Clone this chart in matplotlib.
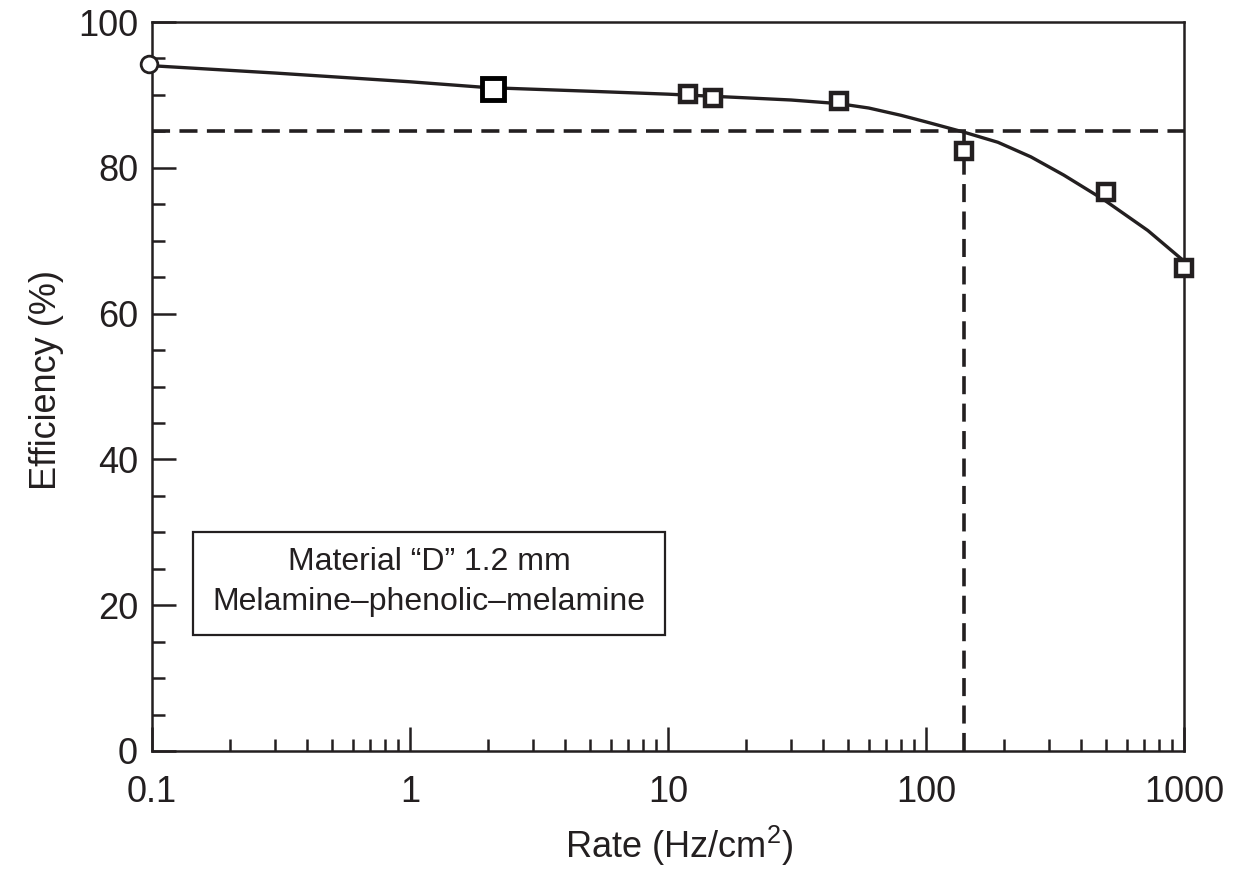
import matplotlib
matplotlib.use("Agg")
import matplotlib.pyplot as plt
from matplotlib.patches import Rectangle
from matplotlib.ticker import FixedLocator, NullFormatter

plt.rcParams['font.family'] = ['Liberation Sans', 'DejaVu Sans']
plt.rcParams['mathtext.fontset'] = 'custom'
plt.rcParams['mathtext.rm'] = 'Liberation Sans'

# measured points
circle_rate = [0.097]
circle_eff = [94.3]
big_sq_rate = [2.1]
big_sq_eff = [90.8]
sq_rate = [12, 15, 46, 140, 500, 1000]
sq_eff = [90.1, 89.6, 89.1, 82.3, 76.7, 66.2]

# fitted curve
curve_rate = [0.1, 0.3, 1, 2, 5, 10, 20, 30, 46, 60, 80, 100, 140, 190, 255, 342, 490, 724, 1000]
curve_eff = [94.0, 93.0, 91.8, 91.0, 90.5, 90.1, 89.6, 89.3, 88.8, 88.2, 87.2, 86.3, 84.9,
             83.5, 81.5, 79.0, 75.6, 71.4, 67.2]

# 85 % efficiency reached at ~140 Hz/cm2
eff_level = 85
rate_level = 140

xticks = [0.1, 1, 10, 100, 1000]
xtick_labels = ["0.1", "1", "10", "100", "1000"]
yticks = [0, 20, 40, 60, 80, 100]

ink = "#231f20"

fig = plt.figure(figsize=(12.5, 8.69), dpi=100)
ax = fig.add_axes([152 / 1250, 118 / 869, 1032 / 1250, 729 / 869])

ax.set_xscale("log")
ax.set_xlim(0.1, 1000)
ax.set_ylim(0, 100)

ax.plot(curve_rate, curve_eff, color=ink, lw=2.4, zorder=3)
ax.plot([0.1, 1000], [eff_level, eff_level], color=ink, lw=2.6,
        dashes=(5, 2.6), zorder=2)
ax.plot([rate_level, rate_level], [0, eff_level], color=ink, lw=2.6,
        dashes=(5, 2.6), zorder=2)

ax.plot(circle_rate, circle_eff, ls="none", marker="o", ms=12, mfc="white",
        mec=ink, mew=2, clip_on=False, zorder=4)
ax.plot(big_sq_rate, big_sq_eff, ls="none", marker="s", ms=16, mfc="white",
        mec="black", mew=3.5, zorder=4)
ax.plot(sq_rate, sq_eff, ls="none", marker="s", ms=11, mfc="white",
        mec=ink, mew=3.2, clip_on=False, zorder=4)

ax.set_xticks(xticks)
ax.set_xticklabels(xtick_labels)
minor = [m * d for d in [0.1, 1, 10, 100] for m in range(2, 10)]
ax.xaxis.set_minor_locator(FixedLocator(minor))
ax.xaxis.set_minor_formatter(NullFormatter())
ax.set_yticks(yticks)
ax.yaxis.set_minor_locator(FixedLocator(range(0, 101, 5)))

ax.tick_params(which="both", direction="in", width=1.8, color=ink,
               top=False, right=False, labelcolor=ink)
ax.tick_params(which="major", length=17, labelsize=26)
ax.tick_params(axis="x", which="major", pad=17)
ax.tick_params(axis="y", which="major", pad=10)
ax.tick_params(which="minor", length=9)
for s in ax.spines.values():
    s.set_linewidth(1.8)
    s.set_color(ink)

ax.set_xlabel("Rate (Hz/cm$^2$)", fontsize=26, labelpad=10, color=ink)
ax.set_ylabel("Efficiency (%)", fontsize=26, labelpad=10, color=ink)
ax.xaxis.label.set_x(0.511)
ax.yaxis.label.set_y(0.509)

ax.add_patch(Rectangle((41 / 1032, 116 / 729), 472 / 1032, 103 / 729,
                       transform=ax.transAxes, fill=False, lw=1.6,
                       ec=ink, zorder=5))
ax.text(277 / 1032, 0.259, "Material \u201cD\u201d 1.2 mm", transform=ax.transAxes,
        ha="center", va="center", fontsize=23, color=ink)
ax.text(277 / 1032, 0.204, "Melamine\u2013phenolic\u2013melamine", transform=ax.transAxes,
        ha="center", va="center", fontsize=23, color=ink)

fig.savefig("out.png", dpi=100)
